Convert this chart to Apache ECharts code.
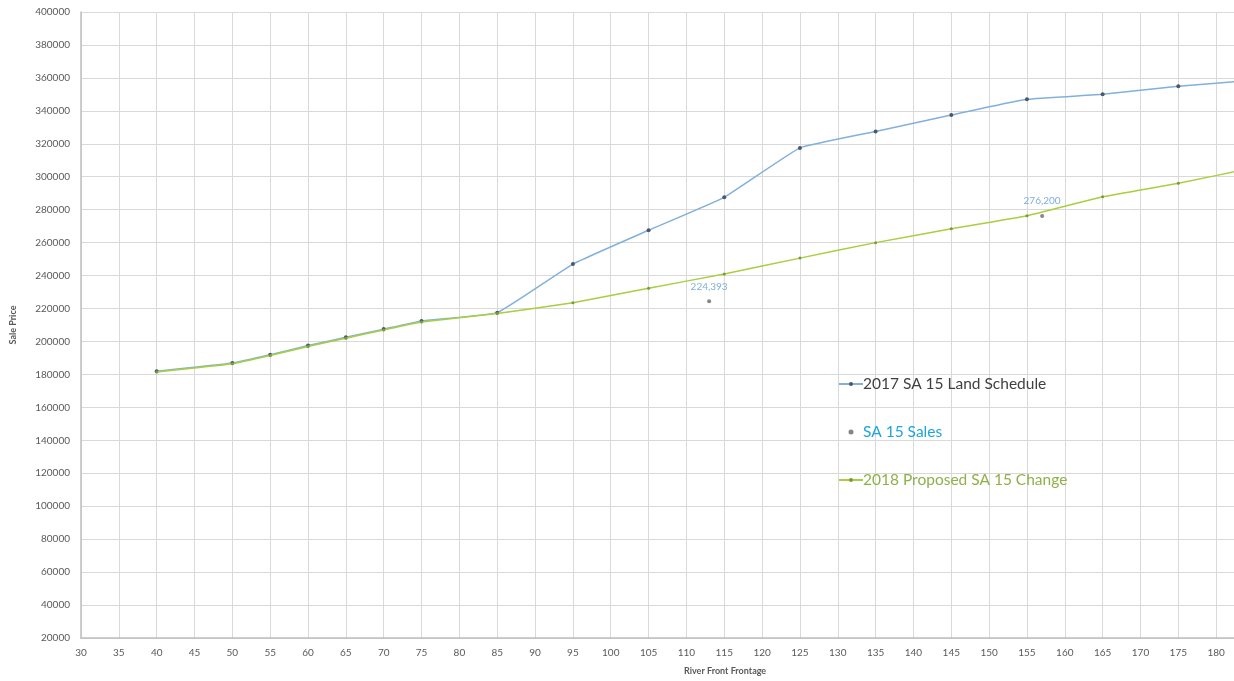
<!DOCTYPE html>
<html>
<head>
<meta charset="utf-8">
<script src="https://cdn.jsdelivr.net/npm/echarts@6/dist/echarts.min.js"></script>
<style>
html,body{margin:0;padding:0;background:#fff;}
#chart{width:1234px;height:681px;}
</style>
</head>
<body>
<div id="chart"></div>
<script>
// River front frontage (x) values
var frontage = [40, 50, 55, 60, 65, 70, 75, 85, 95, 105, 115, 125, 135, 145, 155, 165, 175, 185];
// 2017 SA 15 Land Schedule
var schedule2017 = [182000, 187000, 192000, 197500, 202500, 207500, 212500, 217500, 247000, 267500, 287500, 317500, 327500, 337500, 347000, 350000, 355000, 358500];
// 2018 Proposed SA 15 Change
var proposed2018 = [181500, 186500, 191500, 197000, 202000, 207000, 211800, 217000, 223500, 232300, 241000, 250600, 260000, 268400, 276300, 287800, 296000, 305500];
// SA 15 Sales
var salesFrontage = [113, 157];
var salesPrice = [224393, 276200];

var seriesNames = ['2017 SA 15 Land Schedule', 'SA 15 Sales', '2018 Proposed SA 15 Change'];
var xAxisTitle = 'River Front Frontage';
var yAxisTitle = 'Sale Price';

function pairs(xs, ys) { return xs.map(function (x, i) { return [x, ys[i]]; }); }

var chart = echarts.init(document.getElementById('chart'));
var font = 'Lato, "Open Sans", sans-serif';
chart.setOption({
  animation: false,
  backgroundColor: '#ffffff',
  grid: { left: 81, right: -20, top: 12, bottom: 43, containLabel: false, outerBoundsMode: 'none' },
  xAxis: {
    type: 'value', min: 30, max: 185, interval: 5,
    axisLine: { show: true, lineStyle: { color: '#bfbfbf', width: 1.5 } },
    axisTick: { show: false },
    axisLabel: { color: '#595959', fontSize: 10, margin: 10, fontFamily: font },
    splitLine: { show: true, lineStyle: { color: '#d9d9d9', width: 1 } }
  },
  yAxis: {
    type: 'value', min: 20000, max: 400000, interval: 20000,
    name: yAxisTitle, nameLocation: 'middle', nameGap: 63, nameRotate: 90,
    nameTextStyle: { color: '#595959', fontSize: 9, fontWeight: 'bold', fontFamily: font },
    axisLine: { show: true, lineStyle: { color: '#bfbfbf', width: 1.5 } },
    axisTick: { show: false },
    axisLabel: { color: '#595959', fontSize: 10, margin: 11, fontFamily: font,
      formatter: function (v) { return String(v); } },
    splitLine: { show: true, lineStyle: { color: '#d9d9d9', width: 1 } }
  },
  legend: {
    orient: 'vertical', left: 838, top: 376, itemGap: 32, padding: 0,
    itemWidth: 24, itemHeight: 5,
    textStyle: { fontSize: 15.5, fontFamily: font, padding: [0, 0, 0, -5] },
    data: [
      { name: seriesNames[0], textStyle: { color: '#404040' } },
      { name: seriesNames[1], icon: 'circle', textStyle: { color: '#1ea5dc' } },
      { name: seriesNames[2], textStyle: { color: '#8fb04a' } }
    ]
  },
  graphic: [{
    type: 'text', left: 684, top: 667,
    style: { text: xAxisTitle, fill: '#595959', font: 'bold 9px ' + font }
  }],
  series: [
    {
      name: seriesNames[0], type: 'line', z: 2,
      data: pairs(frontage, schedule2017),
      smooth: 0.1,
      symbol: 'circle', symbolSize: 4,
      lineStyle: { color: '#82b0dc', width: 1.5 },
      itemStyle: { color: '#4a5868' }
    },
    {
      name: seriesNames[2], type: 'line', z: 3,
      data: pairs(frontage, proposed2018),
      smooth: 0.1,
      symbol: 'circle', symbolSize: 3,
      lineStyle: { color: '#a8cf3e', width: 1.5 },
      itemStyle: { color: '#7a9a3e' }
    },
    {
      name: seriesNames[1], type: 'scatter', z: 4,
      data: pairs(salesFrontage, salesPrice),
      symbol: 'circle', symbolSize: 4,
      itemStyle: { color: '#6b6466' },
      label: {
        show: true, position: 'top', distance: 8,
        color: '#5b9bd5', fontSize: 10, fontFamily: font,
        formatter: function (p) { return p.value[1].toLocaleString('en-US'); }
      }
    }
  ]
});
</script>
</body>
</html>
